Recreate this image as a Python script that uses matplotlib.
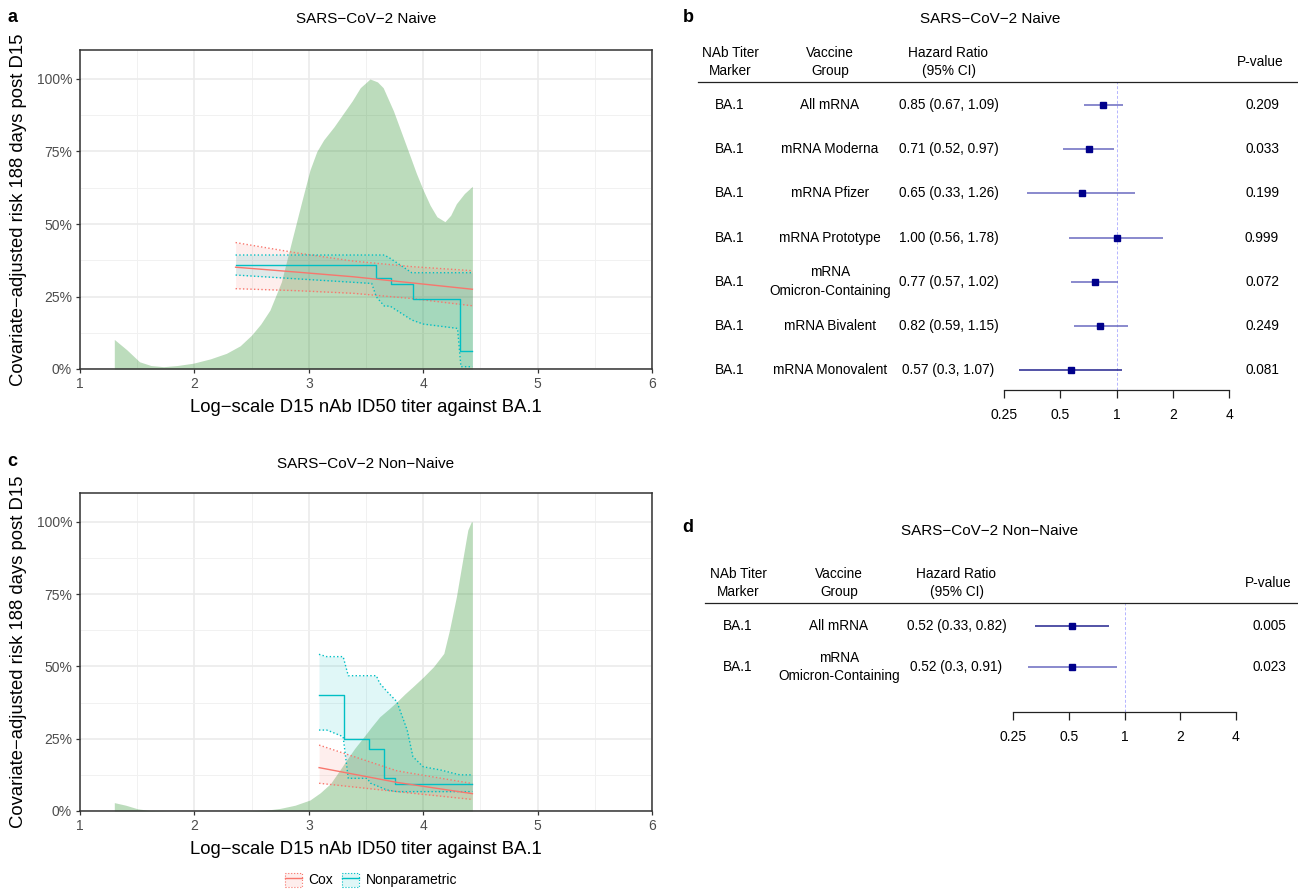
import numpy as np
import matplotlib
matplotlib.use("Agg")
import matplotlib.pyplot as plt
import matplotlib.transforms as mtransforms
from matplotlib.lines import Line2D
from matplotlib.patches import Patch
from matplotlib.ticker import FixedLocator
from matplotlib.legend_handler import HandlerTuple

plt.rcParams['font.family'] = ['Liberation Sans', 'DejaVu Sans']

# ---------------- data ----------------
x_ticks = [1, 2, 3, 4, 5, 6]
y_ticks = [0, 25, 50, 75, 100]
y_tick_labels = ['0%', '25%', '50%', '75%', '100%']

# Panel a: SARS-CoV-2 Naive (risk curves)
dens_a_x = [1.30, 1.41, 1.52, 1.62, 1.73, 1.85, 1.99, 2.14, 2.28, 2.40, 2.50, 2.58,
            2.66, 2.76, 2.86, 2.94, 3.01, 3.07, 3.13, 3.22, 3.30, 3.38, 3.45, 3.535,
            3.60, 3.65, 3.74, 3.81, 3.88, 3.94, 4.00, 4.06, 4.12, 4.19, 4.24, 4.29,
            4.36, 4.43]
dens_a_y = [10.2, 6.6, 2.5, 1.2, 0.8, 1.2, 2.0, 3.5, 5.4, 8.0, 11.7, 15.5,
            20.3, 30.0, 45.6, 58.0, 68.6, 75.0, 79.0, 83.5, 88.0, 92.5, 97.0, 100.0,
            99.0, 97.0, 89.0, 81.5, 74.0, 67.5, 61.7, 56.5, 52.5, 50.8, 53.0, 57.0,
            60.5, 63.0]
cox_a_x = [2.36, 2.90, 3.39, 3.90, 4.43]
cox_a_est = [35.1, 33.4, 31.8, 29.7, 27.5]
cox_a_hi = [43.6, 40.0, 37.2, 35.3, 33.9]
cox_a_lo = [27.7, 27.0, 26.1, 24.3, 21.8]
np_a_x = [2.36, 3.59, 3.72, 3.91, 4.32, 4.43]
np_a_est = [36.0, 31.3, 29.3, 24.0, 6.3, 6.3]
npci_a_x = [2.36, 3.55, 3.59, 3.66, 3.71, 3.90, 4.00, 4.30, 4.33, 4.43]
npci_a_hi = [39.3, 39.3, 39.3, 39.3, 38.2, 33.2, 33.2, 33.2, 33.2, 33.2]
npci_a_lo = [32.4, 29.5, 24.9, 21.7, 21.7, 16.9, 15.5, 14.0, 0.8, 0.8]

# Panel c: SARS-CoV-2 Non-Naive (risk curves)
dens_c_x = [1.30, 1.40, 1.50, 1.60, 1.80, 2.20, 2.50, 2.65, 2.75, 2.88, 3.01, 3.10,
            3.19, 3.26, 3.33, 3.40, 3.48, 3.55, 3.62, 3.70, 3.77, 3.84, 3.91, 4.00,
            4.09, 4.18, 4.23, 4.29, 4.35, 4.39, 4.42, 4.43]
dens_c_y = [2.9, 2.0, 0.8, 0.2, 0.0, 0.0, 0.1, 0.4, 0.9, 2.0, 3.8, 6.3,
            9.5, 13.5, 17.6, 21.6, 25.6, 29.2, 32.6, 35.3, 37.8, 40.5, 43.0, 46.3,
            49.9, 54.5, 62.6, 74.1, 88.0, 97.2, 100.0, 100.0]
cox_c_x = [3.09, 3.77, 4.43]
cox_c_est = [15.0, 9.9, 6.0]
cox_c_hi = [22.8, 13.9, 9.5]
cox_c_lo = [9.6, 6.7, 4.0]
np_c_x = [3.09, 3.31, 3.53, 3.66, 3.75, 4.43]
np_c_est = [40.1, 24.9, 21.5, 11.4, 9.3, 9.3]
npci_c_x = [3.089, 3.156, 3.19, 3.30, 3.345, 3.51, 3.54, 3.59, 3.62, 3.68, 3.77,
            3.86, 3.91, 4.00, 4.15, 4.32, 4.43]
npci_c_hi = [54.2, 53.4, 53.4, 53.4, 46.8, 46.8, 46.8, 46.8, 44.2, 41.5, 37.8,
             28.0, 18.8, 15.3, 14.2, 12.5, 12.5]
npci_c_lo = [28.0, 28.0, 27.5, 25.7, 11.3, 11.3, 9.6, 8.8, 8.3, 7.3, 6.7,
             6.7, 6.7, 6.7, 6.7, 6.7, 6.7]

# Panel b: forest, Naive
marker_b = ['BA.1'] * 7
group_b = ['All mRNA', 'mRNA Moderna', 'mRNA Pfizer', 'mRNA Prototype',
           'mRNA\nOmicron-Containing', 'mRNA Bivalent', 'mRNA Monovalent']
hr_b = [0.85, 0.71, 0.65, 1.00, 0.77, 0.82, 0.57]
lo_b = [0.67, 0.52, 0.33, 0.56, 0.57, 0.59, 0.30]
hi_b = [1.09, 0.97, 1.26, 1.78, 1.02, 1.15, 1.07]
p_b = ['0.209', '0.033', '0.199', '0.999', '0.072', '0.249', '0.081']

# Panel d: forest, Non-Naive
marker_d = ['BA.1'] * 2
group_d = ['All mRNA', 'mRNA\nOmicron-Containing']
hr_d = [0.52, 0.52]
lo_d = [0.33, 0.30]
hi_d = [0.82, 0.91]
p_d = ['0.005', '0.023']

hr_ticks = [0.25, 0.5, 1, 2, 4]
hr_tick_labels = ['0.25', '0.5', '1', '2', '4']

# ---------------- figure ----------------
W, H = 1298, 890
fig = plt.figure(figsize=(W / 100, H / 100), dpi=100)


def rect(l, t, r, b):
    return [l / W, 1 - b / H, (r - l) / W, (b - t) / H]


def fx(px):
    return px / W


def fy(py):
    return 1 - py / H


RED = '#F8766D'
TEAL = '#00BFC4'


def risk_panel(r, dx, dy, cx, ce, clo, chi, nx, ne, cix, cilo, cihi):
    ax = fig.add_axes(r)
    ax.set_xlim(1, 6)
    ax.set_ylim(0, 110)
    ax.set_xticks(x_ticks)
    ax.set_xticklabels([str(v) for v in x_ticks])
    ax.set_yticks(y_ticks)
    ax.set_yticklabels(y_tick_labels)
    ax.xaxis.set_minor_locator(FixedLocator([1.5, 2.5, 3.5, 4.5, 5.5]))
    ax.yaxis.set_minor_locator(FixedLocator([12.5, 37.5, 62.5, 87.5]))
    ax.grid(which='major', color='#EBEBEB', lw=1.2)
    ax.grid(which='minor', color='#F1F1F1', lw=0.7)
    ax.set_axisbelow(True)
    ax.tick_params(which='minor', length=0)
    ax.tick_params(which='major', length=3.2, width=0.9, color='#333333',
                   labelcolor='#4D4D4D', labelsize=10, pad=2.5)
    for s in ax.spines.values():
        s.set_color('#333333')
        s.set_linewidth(1.1)
    ax.fill_between(dx, 0, dy, color='forestgreen', alpha=0.3, lw=0, zorder=1)
    ax.fill_between(cx, clo, chi, color=RED, alpha=0.12, lw=0, zorder=2)
    ax.fill_between(cix, cilo, cihi, color=TEAL, alpha=0.12, lw=0, zorder=2)
    ax.plot(cx, clo, ls=':', color=RED, lw=1, zorder=3)
    ax.plot(cx, chi, ls=':', color=RED, lw=1, zorder=3)
    ax.plot(cix, cilo, ls=':', color=TEAL, lw=1, zorder=3)
    ax.plot(cix, cihi, ls=':', color=TEAL, lw=1, zorder=3)
    ax.plot(nx, ne, drawstyle='steps-post', color=TEAL, lw=1, zorder=4)
    ax.plot(cx, ce, color=RED, lw=1, zorder=4)
    return ax


ax_a = risk_panel(rect(80, 50, 652, 369), dens_a_x, dens_a_y, cox_a_x, cox_a_est,
                  cox_a_lo, cox_a_hi, np_a_x, np_a_est, npci_a_x, npci_a_lo, npci_a_hi)
ax_c = risk_panel(rect(80, 493, 652, 811), dens_c_x, dens_c_y, cox_c_x, cox_c_est,
                  cox_c_lo, cox_c_hi, np_c_x, np_c_est, npci_c_x, npci_c_lo, npci_c_hi)

xlab = 'Log\u2212scale D15 nAb ID50 titer against BA.1'
ylab = 'Covariate\u2212adjusted risk 188 days post D15'
for (top, bot) in [(50, 369), (493, 811)]:
    fig.text(fx(366), fy(bot + 38), xlab, ha='center', va='center', fontsize=13.3)
    fig.text(fx(19), fy((top + bot) / 2), ylab, ha='center', va='center',
             rotation=90, fontsize=13.3)

fig.text(fx(366), fy(19), 'SARS\u2212CoV\u22122 Naive', ha='center', va='center', fontsize=11)
fig.text(fx(366), fy(464), 'SARS\u2212CoV\u22122 Non\u2212Naive', ha='center', va='center', fontsize=11)
fig.text(fx(990), fy(19), 'SARS\u2212CoV\u22122 Naive', ha='center', va='center', fontsize=11)
fig.text(fx(990), fy(531), 'SARS\u2212CoV\u22122 Non\u2212Naive', ha='center', va='center', fontsize=11)
for lab, (px, py) in zip(['a', 'b', 'c', 'd'], [(12, 18), (688, 18), (12, 462), (688, 527)]):
    fig.text(fx(px), fy(py), lab, ha='center', va='center', fontsize=13, fontweight='bold')

# legend
handles = [(Patch(facecolor=RED, alpha=0.12, edgecolor='none'),
            Patch(facecolor='none', edgecolor=RED, linestyle=':', lw=0.8),
            Line2D([], [], color=RED, lw=1)),
           (Patch(facecolor=TEAL, alpha=0.12, edgecolor='none'),
            Patch(facecolor='none', edgecolor=TEAL, linestyle=':', lw=0.8),
            Line2D([], [], color=TEAL, lw=1))]
fig.legend(handles, ['Cox', 'Nonparametric'], loc='center',
           bbox_to_anchor=(fx(371), fy(880)), ncol=2, frameon=False, fontsize=10,
           handlelength=1.2, handleheight=1.2, columnspacing=0.7, handletextpad=0.45,
           handler_map={tuple: HandlerTuple(ndivide=1, pad=0)})


def fmt(v):
    return f'{v:g}'


def forest(r, row_px0, row_step, ax_bot_px, head_px, hr, lo, hi, markers, groups, pv,
           cols, head_line, dark_rows):
    n = len(hr)
    ax = fig.add_axes(r)
    ax.set_xscale('log', base=2)
    ax.set_xlim(0.25, 4)
    top_i = (head_px - row_px0) / row_step
    bot_i = (ax_bot_px - row_px0) / row_step
    ax.set_ylim(bot_i, top_i)
    for s in ['top', 'left', 'right']:
        ax.spines[s].set_visible(False)
    ax.spines['bottom'].set_color('#222222')
    ax.spines['bottom'].set_linewidth(0.9)
    ax.set_xticks(hr_ticks)
    ax.set_xticklabels(hr_tick_labels)
    ax.xaxis.set_minor_locator(FixedLocator([]))
    ax.set_yticks([])
    ax.tick_params(axis='x', length=6, width=0.9, color='#222222', labelsize=10, pad=7)
    ax.patch.set_alpha(0)
    ax.axvline(1, color='#B4B4FF', lw=0.7, ls=(0, (3, 2)), zorder=1)
    for i in range(n):
        c = '#23238E' if i in dark_rows else '#6A6AC0'
        ax.plot([lo[i], hi[i]], [i, i], color=c, lw=1.1, zorder=2, solid_capstyle='butt')
        ax.plot([hr[i]], [i], marker='s', ms=4.2, color='#00008B', zorder=3)
    tr = mtransforms.blended_transform_factory(fig.transFigure, ax.transData)
    cm, cg, ch, cp = cols
    fs = 9.8
    for i in range(n):
        ax.text(fx(cm), i, markers[i], transform=tr, ha='center', va='center',
                fontsize=fs, linespacing=1.45, clip_on=False)
        ax.text(fx(cg), i, groups[i], transform=tr, ha='center', va='center',
                fontsize=fs, linespacing=1.45, clip_on=False)
        ax.text(fx(ch), i, f'{hr[i]:.2f} ({fmt(lo[i])}, {fmt(hi[i])})', transform=tr,
                ha='center', va='center', fontsize=fs, clip_on=False)
        ax.text(fx(cp - 5), i, pv[i], transform=tr, ha='right', va='center',
                fontsize=fs, clip_on=False)
    hy = head_px - 20
    fig.text(fx(cm), fy(hy), 'NAb Titer\nMarker', ha='center', va='center',
             fontsize=fs, linespacing=1.45)
    fig.text(fx(cg), fy(hy), 'Vaccine\nGroup', ha='center', va='center',
             fontsize=fs, linespacing=1.45)
    fig.text(fx(ch), fy(hy), 'Hazard Ratio\n(95% CI)', ha='center', va='center',
             fontsize=fs, linespacing=1.45)
    fig.text(fx(cp), fy(hy), 'P-value', ha='right', va='center', fontsize=fs)
    x0, x1 = head_line
    fig.add_artist(Line2D([fx(x0), fx(x1)], [fy(head_px), fy(head_px)],
                          transform=fig.transFigure, color='#222222', lw=0.9))
    return ax


forest(rect(1004, 82, 1229, 390), 105, 44.17, 390, 82, hr_b, lo_b, hi_b, marker_b,
       group_b, p_b, (730, 830, 948.5, 1284), (698, 1298), [6])
forest(rect(1013, 603, 1236, 712), 626, 41, 712, 603, hr_d, lo_d, hi_d, marker_d,
       group_d, p_d, (738, 839, 956.5, 1291), (705, 1298), [0])

fig.savefig('out.png', dpi=100)
